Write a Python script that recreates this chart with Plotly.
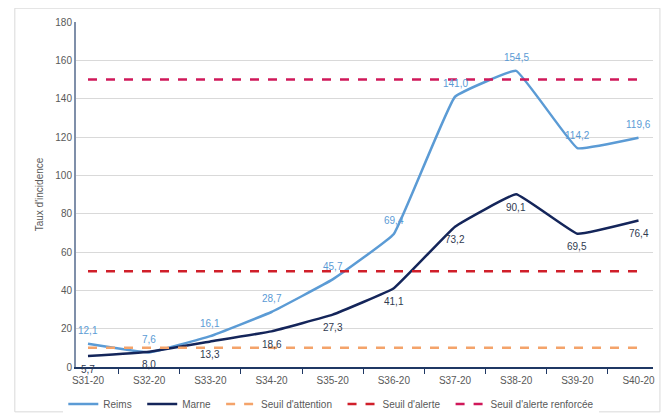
import plotly.graph_objects as go

weeks = ["S31-20", "S32-20", "S33-20", "S34-20", "S35-20", "S36-20", "S37-20", "S38-20", "S39-20", "S40-20"]
reims = [12.1, 7.6, 16.1, 28.7, 45.7, 69.4, 141.0, 154.5, 114.2, 119.6]
marne = [5.7, 8.0, 13.3, 18.6, 27.3, 41.1, 73.2, 90.1, 69.5, 76.4]
seuil_attention = 10
seuil_alerte = 50
seuil_renforce = 150

def fr(v):
    return f"{v:.1f}".replace(".", ",")

FONT = "Liberation Sans, Arial, sans-serif"
PAD = "\u00a0\u00a0"
fig = go.Figure()

fig.add_trace(go.Scatter(
    x=weeks, y=reims, name="Reims" + PAD, mode="lines",
    line=dict(color="#5B9BD5", width=2.5, shape="spline", smoothing=0.25),
))
fig.add_trace(go.Scatter(
    x=weeks, y=marne, name="Marne" + PAD, mode="lines",
    line=dict(color="#14255A", width=2.5, shape="spline", smoothing=0.25),
))
fig.add_trace(go.Scatter(
    x=weeks, y=[seuil_attention] * len(weeks), name="Seuil d'attention" + PAD, mode="lines",
    line=dict(color="#F4A36A", width=2.5, dash="dash"),
))
fig.add_trace(go.Scatter(
    x=weeks, y=[seuil_alerte] * len(weeks), name="Seuil d'alerte" + PAD, mode="lines",
    line=dict(color="#D01F2A", width=2.5, dash="dash"),
))
fig.add_trace(go.Scatter(
    x=weeks, y=[seuil_renforce] * len(weeks), name="Seuil d'alerte renforcée", mode="lines",
    line=dict(color="#D0185A", width=2.5, dash="dash"),
))

for w, v in zip(weeks, reims):
    fig.add_annotation(x=w, y=v, text=fr(v), showarrow=False, yshift=13,
                       font=dict(color="#5B9BD5", size=10, family=FONT))
for w, v in zip(weeks, marne):
    fig.add_annotation(x=w, y=v, text=fr(v), showarrow=False, yshift=-13,
                       font=dict(color="#303a50", size=10, family=FONT))

fig.update_layout(
    width=671, height=417,
    margin=dict(l=68, r=26, t=14, b=58, autoexpand=False),
    paper_bgcolor="white", plot_bgcolor="white",
    font=dict(family=FONT, size=10, color="#595959"),
    showlegend=True,
    legend=dict(orientation="h", x=-0.022, xanchor="left", y=-0.107, yanchor="middle",
                font=dict(size=10, color="#595959"), itemwidth=30,
                tracegroupgap=0),
    xaxis=dict(
        showgrid=False, showline=True, linecolor="#1F3864", linewidth=1.5,
        ticks="outside", ticklen=5, tickcolor="#1F3864", ticklabelstandoff=3,
        tickson="boundaries", tickfont=dict(size=10, color="#595959"),
    ),
    yaxis=dict(
        range=[0, 180], dtick=20, showgrid=True, gridcolor="#D9D9D9", gridwidth=1,
        showline=True, linecolor="#7F8FA9", linewidth=2, zeroline=False,
        tickfont=dict(size=10, color="#595959"),
        title=dict(text="Taux d'incidence", font=dict(size=10, color="#595959"), standoff=10),
    ),
    shapes=[dict(type="rect", xref="paper", yref="paper",
                 x0=-0.106, x1=1.012, y0=-0.13, y1=1.04,
                 line=dict(color="#D9D9D9", width=1))],
)

fig.write_html("out.html")
